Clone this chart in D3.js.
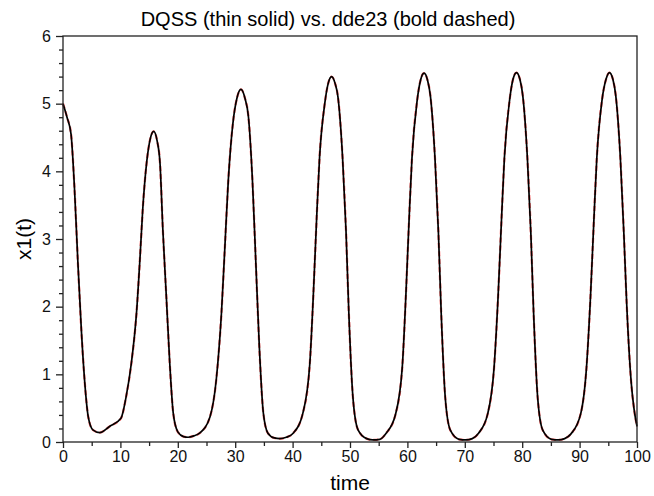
<!DOCTYPE html>
<html lang="en">
  <head>
    <meta charset="utf-8" />
    <title>DQSS vs dde23</title>
    <style>
      body, html {
        margin: 0;
        padding: 0;
        background: #ffffff;
      }
      svg {
        display: block;
        font-family: "Liberation Sans", Arial, sans-serif;
      }
      .axis text {
        font-size: 16px;
        fill: #111;
      }
      .axis path {
        display: none;
      }
      .axis line {
        stroke: #222;
        stroke-width: 1.3px;
      }
    </style>
    <script src="https://d3js.org/d3.v7.min.js"></script>
  </head>
<body>
<svg width="654" height="496"></svg>
<script>

// time points
var times = [0, 0.7, 1.4, 2.0, 2.6, 3.2, 3.8, 4.4, 5.2, 6.4, 8.1, 10.1, 11.0, 11.9, 12.8, 13.4, 13.9, 14.6, 15.2, 15.8,
  16.4, 16.9, 17.4, 18.0, 18.6, 19.2, 20.0, 21.0, 21.8, 22.8,
  23.8, 25.6, 26.7, 27.6, 28.2, 28.8, 29.6, 30.3, 31.0, 31.7, 32.3, 33.0, 33.6, 34.2, 34.9, 35.7, 36.8, 37.8, 38.9,
  40.1, 41.8, 43.0, 43.6, 44.2, 44.7, 45.6, 46.2, 46.8, 47.4, 47.9, 48.7, 49.3, 49.8, 50.5, 51.4, 52.9, 54.0, 55.2,
  56.3, 57.9, 59.1, 59.7, 60.3, 60.8, 61.7, 62.3, 62.9, 63.5, 64.0, 64.8, 65.4, 65.9, 66.6, 67.5, 69.0, 70.2, 71.3,
  72.4, 74.0, 75.1, 75.8, 76.4, 76.9, 77.8, 78.4, 79.0, 79.6, 80.1, 80.9, 81.5, 82.0, 82.7, 83.6, 85.1, 86.3, 87.4,
  88.5, 90.2, 91.2, 91.9, 92.5, 93.0, 93.9, 94.6, 95.2, 95.8, 96.3, 97.1, 97.7, 98.2, 99.0, 99.5, 100];

// x1(t) from DQSS (thin solid)
var dqssX1 = [5.0, 4.8, 4.55, 3.75, 2.64, 1.65, 0.87, 0.37, 0.18, 0.14, 0.23, 0.35, 0.67, 1.16, 1.9, 2.7, 3.45, 4.15, 4.48, 4.59,
  4.45, 4.12, 3.13, 2.15, 1.16, 0.43, 0.15, 0.08, 0.07, 0.09,
  0.13, 0.37, 0.92, 1.9, 2.88, 3.87, 4.71, 5.08, 5.21, 5.08, 4.81, 3.87, 2.64, 1.41, 0.43, 0.13, 0.06, 0.05, 0.07,
  0.13, 0.43, 1.16, 2.15, 3.33, 4.21, 5.0, 5.3, 5.4, 5.3, 5.1, 4.21, 3.13, 1.9, 0.67, 0.18, 0.05, 0.03, 0.04,
  0.13, 0.4, 1.1, 2.1, 3.3, 4.2, 5.05, 5.35, 5.45, 5.35, 5.12, 4.2, 3.1, 1.88, 0.65, 0.17, 0.04, 0.03, 0.05,
  0.13, 0.42, 1.1, 2.15, 3.3, 4.2, 5.05, 5.36, 5.46, 5.36, 5.12, 4.2, 3.1, 1.88, 0.65, 0.17, 0.04, 0.03, 0.05,
  0.12, 0.42, 1.1, 2.15, 3.3, 4.2, 5.05, 5.36, 5.46, 5.36, 5.12, 4.2, 3.1, 2.05, 0.87, 0.48, 0.23];

// dde23 (bold dashed) sits on top of the DQSS curve everywhere
var dde23X1 = dqssX1;

var xTicks = [0, 10, 20, 30, 40, 50, 60, 70, 80, 90, 100];
var yTicks = [0, 1, 2, 3, 4, 5, 6];

var svg = d3.select("svg");
var plotLeft = 63, plotRight = 637, plotTop = 36, plotBottom = 442;

var x = d3.scaleLinear().domain([0, 100]).range([plotLeft, plotRight]);
var y = d3.scaleLinear().domain([0, 6]).range([plotBottom, plotTop]);

// minor ticks
svg.append("g")
   .attr("class", "axis")
   .attr("transform", "translate(0," + plotBottom + ")")
   .call(d3.axisBottom(x).tickValues(d3.range(5, 100, 10)).tickSize(4).tickFormat(""));

svg.append("g")
   .attr("class", "axis")
   .attr("transform", "translate(" + plotLeft + ",0)")
   .call(d3.axisLeft(y).tickValues(d3.range(0, 30).filter(function(i) { return i % 5; }).map(function(i) { return i / 5; })).tickSize(4).tickFormat(""));

// major ticks
svg.append("g")
   .attr("class", "axis")
   .attr("transform", "translate(0," + plotBottom + ")")
   .call(d3.axisBottom(x).tickValues(xTicks).tickSize(6).tickPadding(3).tickFormat(d3.format("d")));

svg.append("g")
   .attr("class", "axis")
   .attr("transform", "translate(" + plotLeft + ",0)")
   .call(d3.axisLeft(y).tickValues(yTicks).tickSize(7).tickPadding(5).tickFormat(d3.format("d")));

// lines
var line = d3.line()
    .x(function(d) { return x(d[0]); })
    .y(function(d) { return y(d[1]); })
    .curve(d3.curveMonotoneX);

svg.append("path")
   .datum(times.map(function(t, i) { return [t, dde23X1[i]]; }))
   .attr("fill", "none")
   .attr("stroke", "#ff7070")
   .attr("stroke-width", 2.3)
   .attr("stroke-dasharray", "5,3")
   .attr("d", line);

svg.append("path")
   .datum(times.map(function(t, i) { return [t, dqssX1[i]]; }))
   .attr("fill", "none")
   .attr("stroke", "#000")
   .attr("stroke-width", 1.7)
   .attr("d", line);

// frame
svg.append("rect")
   .attr("x", plotLeft).attr("y", plotTop)
   .attr("width", plotRight - plotLeft).attr("height", plotBottom - plotTop)
   .attr("fill", "none")
   .attr("stroke", "#222")
   .attr("stroke-width", 1.3);

// titles
svg.append("text")
   .attr("x", 328).attr("y", 26)
   .attr("text-anchor", "middle")
   .style("font-size", "20px")
   .text("DQSS (thin solid) vs. dde23 (bold dashed)");

svg.append("text")
   .attr("x", (plotLeft + plotRight) / 2).attr("y", 490)
   .attr("text-anchor", "middle")
   .style("font-size", "21px")
   .text("time");

svg.append("text")
   .attr("transform", "translate(31," + (plotTop + plotBottom) / 2 + ") rotate(-90)")
   .attr("text-anchor", "middle")
   .style("font-size", "21px")
   .text("x1(t)");
</script>
</body>
</html>
